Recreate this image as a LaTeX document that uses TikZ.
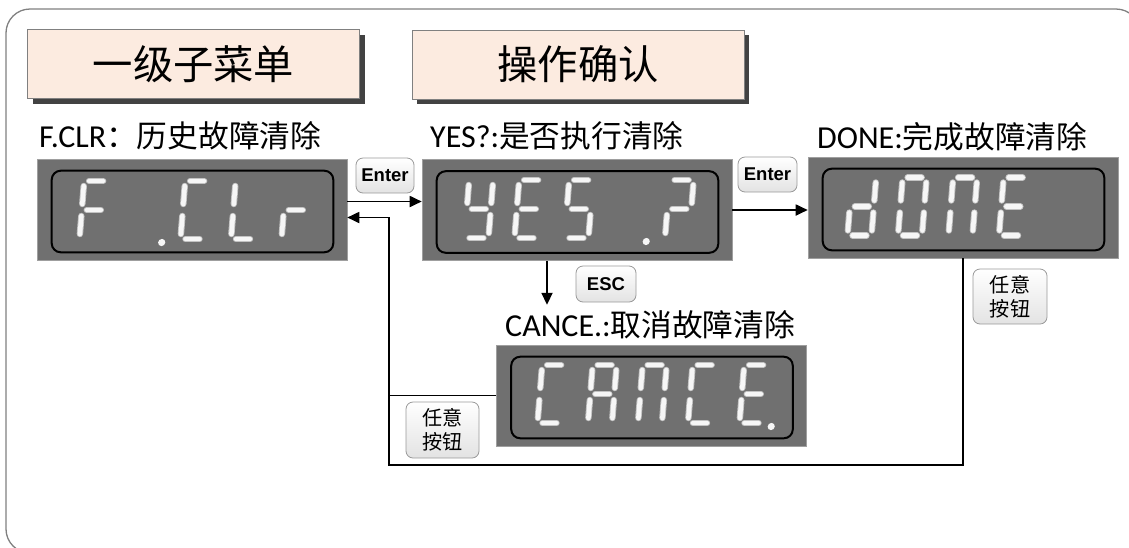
\documentclass[tikz,border=0pt]{standalone}
\usepackage{fontspec}
\setmainfont{Carlito}
\newfontfamily\cjk[Scale=0.96]{Noto Sans CJK SC}
\newfontfamily\arl{Liberation Sans}
\usetikzlibrary{calc,arrows.meta,shadows}
\definecolor{dispgray}{HTML}{707070}
\definecolor{segwhite}{HTML}{F6F6F6}
\definecolor{segedge}{HTML}{C2C2C2}
\definecolor{titlefill}{HTML}{FCEBE0}
\definecolor{framegray}{HTML}{808080}
\tikzset{
  disp/.style={rectangle, fill=dispgray, draw=gray!75, line width=0.6pt, minimum width=310pt, minimum height=101pt, inner sep=0pt},
  innerbox/.style={draw=black, line width=2pt, rounded corners=9pt},
  titlebox/.style={rectangle, fill=titlefill, draw=gray, line width=0.8pt, minimum width=332pt, minimum height=69pt, inner sep=0pt,
    font=\cjk\fontsize{42}{46}\selectfont,
    drop shadow={shadow xshift=5pt, shadow yshift=-5pt, fill=black!78, opacity=0.95}},
  keybtn/.style={rectangle, rounded corners=7pt, draw=gray!80, line width=0.8pt, top color=white, bottom color=gray!22, inner sep=0pt},
  enterfont/.style={font=\arl\bfseries\fontsize{18.5}{21}\selectfont},
  anyfont/.style={align=center, font=\cjk\fontsize{21}{24}\selectfont},
  lbl/.style={anchor=west, inner sep=0pt, font=\fontsize{32}{34}\selectfont},
  conn/.style={line width=1.8pt, draw=black},
  arr/.style={conn, -{Triangle[length=12pt,width=11pt]}},
  segout/.style={draw=segedge, line width=6.4pt, line cap=round},
  segin/.style={draw=segwhite, line width=4.6pt, line cap=round},
}
\newcommand\segdraw[2]{\draw[segout] #1 -- #2; \draw[segin] #1 -- #2;}
\def\dsga{\segdraw{(5,-58)}{(19,-58)}}
\def\dsgb{\segdraw{(24,-53)}{(24,-35)}}
\def\dsgc{\segdraw{(24,-23)}{(24,-5)}}
\def\dsgd{\segdraw{(5,0)}{(19,0)}}
\def\dsge{\segdraw{(0,-23)}{(0,-5)}}
\def\dsgf{\segdraw{(0,-53)}{(0,-35)}}
\def\dsgg{\segdraw{(5,-29)}{(19,-29)}}
\def\dsgp{\fill[segwhite] (32,3.5) circle (3.6pt);}
\newcommand\sevdig[3]{\begin{scope}[shift={(#1,#2)},xslant=0.08]\foreach \s in {#3}{\csname dsg\s\endcsname}\end{scope}}
\begin{document}
\begin{tikzpicture}[x=1pt,y=-1pt]
\useasboundingbox (0,0) rectangle (1129,547);
\clip (0,0) rectangle (1129,547);
% outer frame
\draw[framegray, line width=1.3pt, rounded corners=24pt] (6,9) rectangle (1140,553);

% titles
\node[titlebox] (t1) at (193.5,64) {一级子菜单};
\node[titlebox] (t2) at (578,64.5) {操作确认};

% labels
\node[lbl] (l1) at (39,136) {F.CLR{\cjk ：历史故障清除}};
\node[lbl] (l2) at (430,136) {YES?:{\cjk 是否执行清除}};
\node[lbl] (l3) at (817,137) {DONE:{\cjk 完成故障清除}};
\node[lbl] (l4) at (505,325) {CANCE.:{\cjk 取消故障清除}};

% displays
\node[disp] (d1) at (192,209.5) {};
\node[disp] (d2) at (577,210) {};
\node[disp] (d3) at (963,207.5) {};
\node[disp] (d4) at (651.5,395.5) {};
\foreach \d in {d1,d2,d3,d4}{
  \draw[innerbox] ($(\d.north west)+(15,12)$) rectangle ($(\d.south east)+(-14,-8)$);
}

% digits: F .CLr
\sevdig{79.5}{239}{a,e,f,g}
\sevdig{130}{239}{p}
\sevdig{180.5}{239}{a,d,e,f}
\sevdig{231}{239}{d,e,f}
\sevdig{281.5}{239}{e,g}
% YES .?
\sevdig{464.5}{238}{b,c,d,f,g}
\sevdig{514.5}{238}{a,d,e,f,g}
\sevdig{564.5}{238}{a,c,d,f,g}
\sevdig{614.5}{238}{p}
\sevdig{665}{238}{a,b,g,e}
% dONE
\sevdig{847.5}{235.5}{b,c,d,e,g}
\sevdig{898}{235.5}{a,b,c,d,e,f}
\sevdig{948.5}{235.5}{a,b,c,e,f}
\sevdig{999}{235.5}{a,d,e,f,g}
% CANCE.
\sevdig{537.5}{423}{a,d,e,f}
\sevdig{588}{423}{a,b,c,e,f,g}
\sevdig{638}{423}{a,b,c,e,f}
\sevdig{688}{423}{a,d,e,f}
\sevdig{739.5}{423}{a,d,e,f,g,p}

% connectors
\coordinate (fwd) at ($(d1.east)+(0,-8)$);
\coordinate (ret) at ($(d1.east)+(0,8)$);
\coordinate (escstart) at ($(d2.south)+(-30,0)$);
\coordinate (escend) at ($(d2.south)+(-30,44)$);
\coordinate (loopbl) at (389,465);
\draw[arr] (fwd) -- (fwd -| d2.west);
\draw[arr] (d2.east) -- (d2.east -| d3.west);
\draw[arr] (escstart) -- (escend);
\draw[arr] (d3.south) |- (loopbl) |- (ret);
\draw[conn] (d4.west) -- (d4.west -| loopbl);

% keys
\node[keybtn, enterfont, minimum width=58pt, minimum height=35pt] (k1) at (385,175.5) {Enter};
\node[keybtn, enterfont, minimum width=59pt, minimum height=35pt] (k2) at (767.5,174.5) {Enter};
\node[keybtn, enterfont, minimum width=60pt, minimum height=36pt] (k3) at (606,284) {ESC};
\node[keybtn, anyfont, minimum width=74pt, minimum height=55pt] (k4) at (1010,296.5) {任意\\按钮};
\node[keybtn, anyfont, minimum width=73pt, minimum height=56pt] (k5) at (442.5,430) {任意\\按钮};
\end{tikzpicture}
\end{document}
